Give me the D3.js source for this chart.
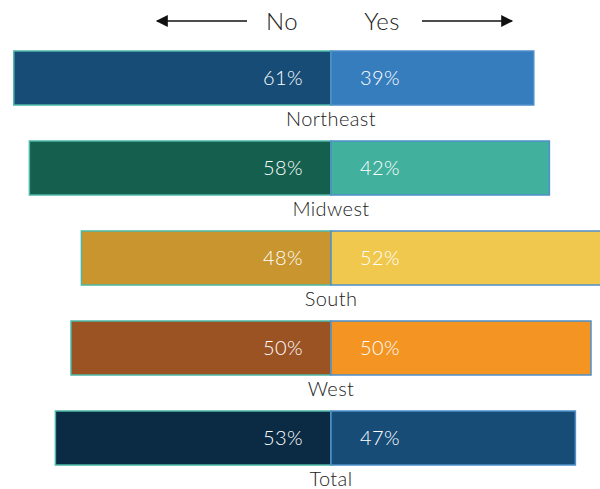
<!DOCTYPE html>
<html>
<head>
<meta charset="utf-8">
<script src="https://cdn.jsdelivr.net/npm/d3@7"></script>
<style>
  body { margin: 0; background: #fff; }
  text { font-family: Lato, "Open Sans", sans-serif; font-weight: 300; letter-spacing: 0.4px; }
</style>
</head>
<body>
<div id="vis"></div>
<script>
//-- Data
var regions = ["Northeast", "Midwest", "South", "West", "Total"];
var noValues = [61, 58, 48, 50, 53];
var yesValues = [39, 42, 52, 50, 47];
var noColors = ["#174c77", "#155f4e", "#c9952e", "#9b5324", "#0b2b45"];
var yesColors = ["#367dbe", "#41b09c", "#f0c84e", "#f39423", "#174c77"];

//-- Setup
var width = 600;
var height = 489;
var center = 331;

var svg = d3.select("#vis").append("svg")
  .attr("width", width)
  .attr("height", height);

var x = d3.scaleLinear()
  .domain([-100, 100])
  .range([center - 520, center + 520]);

var y = d3.scaleBand()
  .domain(regions)
  .range([51, 465])
  .paddingInner(0.4)
  .paddingOuter(0);

var rows = regions.map(function(r, i) {
  return { region: r, no: noValues[i], yes: yesValues[i], noColor: noColors[i], yesColor: yesColors[i] };
});

// arrow head
svg.append("defs").append("marker")
  .attr("id", "arrow")
  .attr("viewBox", "0 0 10 10")
  .attr("refX", 9).attr("refY", 5)
  .attr("markerWidth", 16).attr("markerHeight", 12)
  .attr("markerUnits", "userSpaceOnUse")
  .attr("orient", "auto")
  .append("path")
  .attr("d", "M0,0 L10,5 L0,10 z")
  .attr("fill", "#111");

//-- Header
svg.append("line")
  .attr("x1", 247).attr("x2", 157).attr("y1", 21).attr("y2", 21)
  .attr("stroke", "#111").attr("stroke-width", 1.5)
  .attr("marker-end", "url(#arrow)");
svg.append("line")
  .attr("x1", 422).attr("x2", 512).attr("y1", 21).attr("y2", 21)
  .attr("stroke", "#111").attr("stroke-width", 1.5)
  .attr("marker-end", "url(#arrow)");

svg.append("text").attr("x", 282).attr("y", 30)
  .attr("text-anchor", "middle").attr("font-size", 24).attr("fill", "#222")
  .text("No");
svg.append("text").attr("x", 382).attr("y", 30)
  .attr("text-anchor", "middle").attr("font-size", 24).attr("fill", "#222")
  .text("Yes");

//-- Bars
var g = svg.selectAll("g.row")
  .data(rows)
  .enter().append("g")
  .attr("class", "row");

g.append("rect")
  .attr("x", function(d) { return x(-d.no); })
  .attr("y", function(d) { return y(d.region); })
  .attr("width", function(d) { return x(0) - x(-d.no); })
  .attr("height", y.bandwidth())
  .attr("fill", function(d) { return d.noColor; })
  .attr("stroke", "#4cb8a6")
  .attr("stroke-width", 1.5);

g.append("rect")
  .attr("x", x(0))
  .attr("y", function(d) { return y(d.region); })
  .attr("width", function(d) { return x(d.yes) - x(0); })
  .attr("height", y.bandwidth())
  .attr("fill", function(d) { return d.yesColor; })
  .attr("stroke", "#4f8fcb")
  .attr("stroke-width", 1.5);

g.append("text")
  .attr("x", x(0) - 28)
  .attr("y", function(d) { return y(d.region) + y.bandwidth() / 2; })
  .attr("dy", "0.35em")
  .attr("text-anchor", "end")
  .attr("font-size", 20)
  .attr("fill", "#fff")
  .text(function(d) { return d.no + "%"; });

g.append("text")
  .attr("x", x(0) + 29)
  .attr("y", function(d) { return y(d.region) + y.bandwidth() / 2; })
  .attr("dy", "0.35em")
  .attr("text-anchor", "start")
  .attr("font-size", 20)
  .attr("fill", "#fff")
  .text(function(d) { return d.yes + "%"; });

g.append("text")
  .attr("x", x(0))
  .attr("y", function(d) { return y(d.region) + y.bandwidth() + 21; })
  .attr("text-anchor", "middle")
  .attr("font-size", 20)
  .attr("fill", "#222")
  .text(function(d) { return d.region; });
</script>
</body>
</html>
